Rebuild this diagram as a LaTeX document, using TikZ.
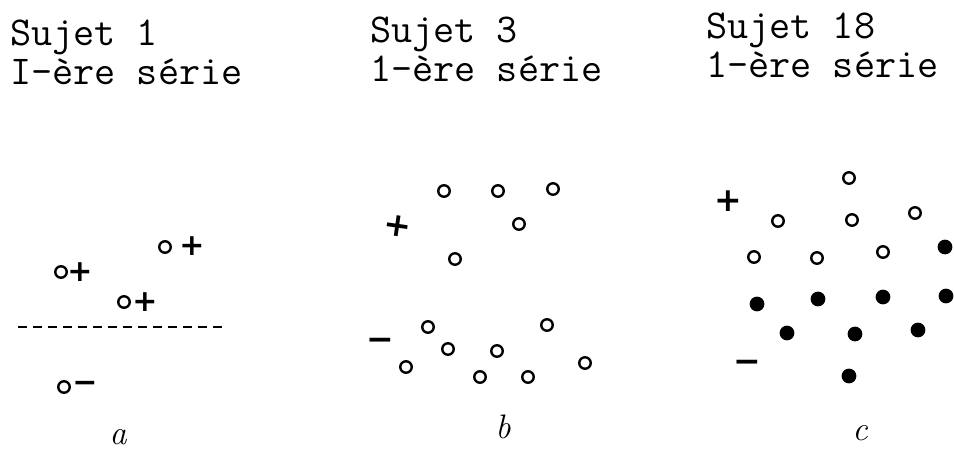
\documentclass[tikz,border=0pt]{standalone}
\usepackage{fontspec}
\newfontfamily\sgnfont{DejaVu Sans}
\begin{document}
\begin{tikzpicture}[x=1pt,y=-1pt,
  oc/.style={circle,draw=black,line width=2.4pt,inner sep=0pt,minimum size=11.5pt,fill=white},
  fc/.style={circle,draw=black,line width=1.2pt,inner sep=0pt,minimum size=13.5pt,fill=black},
  ttl/.style={anchor=north west,inner sep=0pt,font=\ttfamily\fontsize{41}{41}\selectfont,align=left},
  sgn/.style={inner sep=0pt,font=\sgnfont\bfseries\fontsize{33}{33}\selectfont},
  sgna/.style={inner sep=0pt,font=\sgnfont\bfseries\fontsize{30}{30}\selectfont},
  lab/.style={inner sep=0pt,font=\itshape\fontsize{34}{34}\selectfont}]
\useasboundingbox (0,0) rectangle (954,449);
\fill[white] (0,0) rectangle (954,449);
% titles
\node[ttl] (t1) at (10,20) {Sujet 1\\[-2pt]I-ère série};
\node[ttl] (t2) at (370,17) {Sujet 3\\[-2pt]1-ère série};
\node[ttl] (t3) at (706,13) {Sujet 18\\[-2pt]1-ère série};
% panel a
\node[oc] (a1) at (165,247) {};
\node[sgna] (ap1) at (192,246) {+};
\node[oc] (a2) at (61,272) {};
\node[sgna] (ap2) at (80,272) {+};
\node[oc] (a3) at (124,302) {};
\node[sgna] (ap3) at (145,302) {+};
\coordinate (dl) at (18,327);
\coordinate (dr) at (225,327);
\draw[line width=2.4pt,dash pattern=on 9pt off 6pt] (dl) -- (dr);
\node[oc] (a4) at (64,387) {};
\node[sgna] (am1) at (85,387) {−};
\node[lab] (la) at (118,437) {a};
% panel b
\node[oc] (b1) at (444,191) {};
\node[oc] (b2) at (498,191) {};
\node[oc] (b3) at (553,189) {};
\node[oc] (b4) at (519,224) {};
\node[oc] (b5) at (455,259) {};
\node[sgn,rotate=-8] (bp) at (398,226) {+};
\node[oc] (b6) at (428,327) {};
\node[oc] (b7) at (547,325) {};
\node[sgn] (bm) at (380,344) {−};
\node[oc] (b8) at (448,349) {};
\node[oc] (b9) at (497,351) {};
\node[oc] (b10) at (406,367) {};
\node[oc] (b11) at (480,377) {};
\node[oc] (b12) at (528,377) {};
\node[oc] (b13) at (585,363) {};
\node[lab] (lb) at (503,427) {b};
% panel c
\node[oc] (c1) at (849,178) {};
\node[sgn] (cp) at (728,201) {+};
\node[oc] (c2) at (778,221) {};
\node[oc] (c3) at (852,220) {};
\node[oc] (c4) at (915,213) {};
\node[oc] (c5) at (754,257) {};
\node[oc] (c6) at (817,258) {};
\node[oc] (c7) at (883,252) {};
\node[fc] (c8) at (945,247) {};
\node[fc] (c9) at (757,304) {};
\node[fc] (c10) at (818,299) {};
\node[fc] (c11) at (883,297) {};
\node[fc] (c12) at (946,296) {};
\node[fc] (c13) at (787,333) {};
\node[fc] (c14) at (855,334) {};
\node[fc] (c15) at (918,330) {};
\node[sgn] (cm) at (747,366) {−};
\node[fc] (c16) at (849,376) {};
\node[lab] (lc) at (860,433) {c};
\end{tikzpicture}
\end{document}
